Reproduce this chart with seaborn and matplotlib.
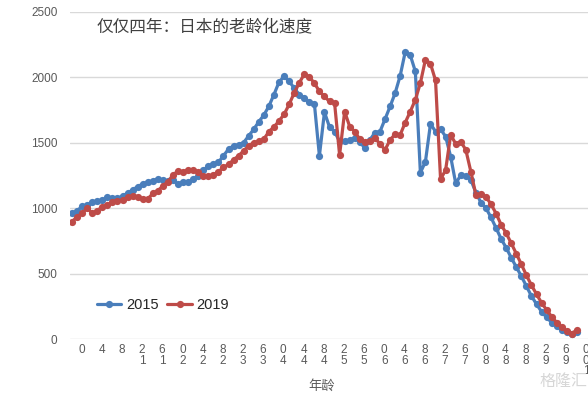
import matplotlib
matplotlib.use("Agg")
import matplotlib.pyplot as plt
from matplotlib.lines import Line2D
import pandas as pd
import seaborn as sns

# ---------------- data ----------------
ages = list(range(0, 101))
pop_2015 = [960, 980, 1015, 1025, 1045, 1055, 1062, 1083, 1075, 1075,
            1093, 1115, 1140, 1165, 1185, 1200, 1208, 1225, 1215, 1208,
            1215, 1183, 1200, 1198, 1220, 1250, 1290, 1320, 1340, 1351,
            1401, 1452, 1477, 1485, 1502, 1553, 1604, 1661, 1712, 1780,
            1869, 1964, 2008, 1970, 1919, 1869, 1843, 1810, 1800, 1400,
            1735, 1620, 1586, 1510, 1510, 1522, 1535, 1509, 1458, 1522,
            1578, 1586, 1681, 1778, 1880, 2013, 2195, 2170, 2046, 1271,
            1356, 1645, 1586, 1604, 1548, 1394, 1190, 1252, 1250, 1215,
            1120, 1042, 1000, 929, 848, 765, 697, 621, 550, 480,
            404, 328, 267, 209, 166, 126, 96, 70, 50, 38,
            55]
pop_2019 = [896, 935, 960, 1003, 960, 982, 1011, 1024, 1049, 1057,
            1062, 1083, 1093, 1083, 1070, 1070, 1113, 1134, 1170, 1203,
            1254, 1285, 1279, 1290, 1290, 1279, 1246, 1246, 1255, 1279,
            1312, 1335, 1370, 1401, 1439, 1477, 1502, 1510, 1528, 1586,
            1621, 1667, 1717, 1793, 1881, 1957, 2025, 2003, 1957, 1893,
            1854, 1816, 1806, 1407, 1739, 1624, 1586, 1527, 1509, 1517,
            1535, 1492, 1446, 1522, 1566, 1561, 1655, 1739, 1829, 1957,
            2136, 2105, 1977, 1221, 1292, 1561, 1492, 1509, 1446, 1279,
            1100, 1111, 1086, 1030, 959, 873, 808, 732, 652, 571,
            487, 411, 343, 277, 222, 171, 126, 91, 58, 42,
            70]
series_names = ["2015", "2019"]
series_colors = ["#4A7EBB", "#BE4B48"]
tick_ages = list(range(0, 101, 4))
y_ticks = [0, 500, 1000, 1500, 2000, 2500]
title_text = "仅仅四年：日本的老龄化速度"
x_label = "年龄"
watermark = "格隆汇"

# stacked tick labels (digits shown bottom-up, as in the reference)
tick_labels = ["\n".join(reversed(str(a))) for a in tick_ages]

df = pd.DataFrame({
    "age": ages + ages,
    "pop": pop_2015 + pop_2019,
    "year": [series_names[0]] * len(ages) + [series_names[1]] * len(ages),
})

# ---------------- style ----------------
sns.set_theme(style="white")
plt.rcParams['font.family'] = ['Liberation Sans', 'Noto Sans CJK SC', 'DejaVu Sans']

W, H = 588, 396
fig = plt.figure(figsize=(W / 100, H / 100), dpi=100)
ax = fig.add_axes([70 / W, 57 / H, 518 / W, 327 / H])

palette = dict(zip(series_names, series_colors))
sns.lineplot(data=df, x="age", y="pop", hue="year", palette=palette,
             marker="o", markersize=5.2, markeredgewidth=0, linewidth=2.3,
             legend=False, ax=ax, zorder=3)

ax.set_xlim(-0.4, 102.2)
ax.set_ylim(0, 2500)
ax.set_yticks(y_ticks)
ax.set_yticklabels([str(v) for v in y_ticks], fontsize=8.5, color="#595959")
# labels sit a little to the right of their category, as in the reference
label_shift = 1.85
ax.set_xticks([a + label_shift for a in tick_ages])
ax.set_xticklabels(tick_labels, fontsize=8.5, color="#595959",
                   linespacing=0.85, va="top")

ax.tick_params(axis="x", length=0, pad=3.5)
ax.tick_params(axis="y", length=0, pad=9)
ax.set_xlabel("")
ax.set_ylabel("")
ax.yaxis.grid(True, color="#D9D9D9", linewidth=1.0, zorder=0)
ax.xaxis.grid(False)
for s in ax.spines.values():
    s.set_visible(False)

handles = [Line2D([], [], color=c, marker="o", markersize=5.2,
                  markeredgewidth=0, linewidth=2.3) for c in series_colors]
ax.legend(handles, series_names, ncol=2, frameon=False, loc="center left",
          bbox_to_anchor=(0.026, 0.104), fontsize=10.5, handlelength=1.7,
          handletextpad=0.3, columnspacing=0.6, borderpad=0.4)

fig.text(97 / W, 1 - 28 / H, title_text, fontsize=12, color="#404040",
         va="center", ha="left", family=["Noto Sans CJK SC", "DejaVu Sans"])
fig.text(322 / W, 1 - 386 / H, x_label, fontsize=9.5, color="#595959",
         va="center", ha="center", family=["Noto Sans CJK SC", "DejaVu Sans"])
fig.text(587 / W, 1 - 381 / H, watermark, fontsize=11.5, color="#D6D6D6",
         va="center", ha="right", family=["Noto Sans CJK SC", "DejaVu Sans"])

fig.savefig("out.png", dpi=100)
